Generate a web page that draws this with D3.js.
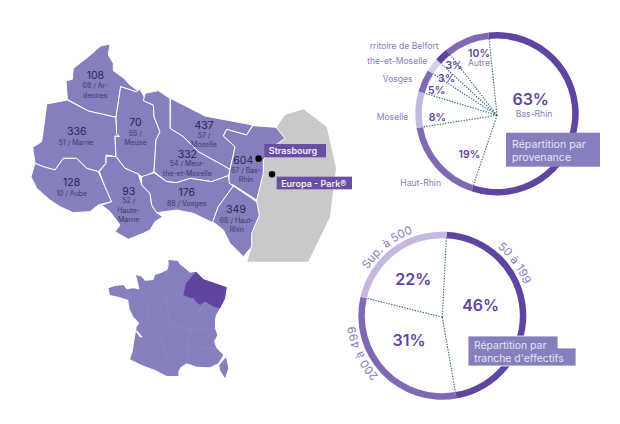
<!DOCTYPE html>
<html><head><meta charset="utf-8">
<style>html,body{margin:0;padding:0;background:#fff}svg{display:block}text{font-family:Inter,sans-serif}</style>
<script src="https://cdn.jsdelivr.net/npm/d3@7"></script></head><body>
<svg id="c" width="620" height="424"></svg>
<script>
// ---- data ----
const deptCounts=[108,336,70,437,332,604,128,93,176,349];
const deptLabels=[["08 / Ar-","dennes"],["51 / Marne"],["55 /","Meuse"],["57 /","Moselle"],["54 / Meur-","the-et-Moselle"],["67 / Bas-","Rhin"],["10 / Aube"],["52 /","Haute-","Marne"],["88 / Vosges"],["68 / Haut-","Rhin"]];
const deptOutlines=[
[[240,42],[212,48],[175,80],[130,115],[127,148],[108,152],[112,208],[175,243],[258,262],[272,170],[318,185],[330,178],[345,190],[340,184],[318,178],[300,165],[282,145],[250,122],[250,100],[235,75]],
[[50,222],[112,210],[175,243],[258,262],[260,310],[268,320],[255,318],[258,380],[228,375],[228,400],[205,425],[170,415],[140,385],[100,385],[75,420],[40,410],[15,400],[8,352],[35,335],[45,262]],
[[272,170],[318,185],[330,178],[345,205],[340,212],[370,225],[372,260],[390,305],[378,330],[372,425],[340,443],[325,432],[285,415],[258,380],[255,318],[268,320],[260,310],[258,262]],
[[422,205],[525,258],[668,285],[650,315],[590,298],[580,318],[615,350],[610,375],[600,418],[505,365],[460,320],[420,295]],
[[345,190],[385,182],[420,205],[420,295],[460,320],[505,365],[600,418],[595,437],[545,455],[480,445],[440,458],[410,455],[372,425],[378,330],[390,305],[372,260],[370,225],[340,212]],
[[668,287],[738,292],[765,325],[730,350],[700,390],[700,430],[680,510],[610,465],[595,460],[600,418],[610,375],[615,350],[580,318],[590,298],[650,315]],
[[15,400],[40,410],[75,420],[100,385],[140,385],[170,415],[205,425],[225,470],[245,515],[205,525],[180,545],[130,548],[90,530],[60,510],[20,475],[3,440]],
[[228,378],[258,380],[285,415],[325,432],[335,465],[360,490],[365,525],[380,548],[398,560],[375,575],[360,600],[340,610],[295,628],[255,605],[270,585],[240,545],[215,525],[245,515],[225,470],[208,425],[228,400]],
[[335,440],[372,428],[410,455],[440,458],[480,445],[545,455],[595,437],[598,460],[610,468],[565,530],[548,578],[490,550],[440,540],[380,548],[365,525],[360,490],[335,465]],
[[610,468],[680,515],[688,555],[665,610],[665,650],[640,680],[600,640],[580,600],[548,575],[565,530]]
];
const germanyOutline=[[740,292],[765,255],[820,238],[890,290],[918,415],[900,560],[835,695],[652,695],[665,650],[665,610],[688,555],[680,510],[700,430],[700,390],[730,350],[765,325]];
const cityNames=["Strasbourg","Europa - Park®"];
const cityPoints=[[686,386],[726,433]];
const franceOutline=[[55,85],[75,78],[100,75],[110,88],[130,85],[148,88],[144,68],[138,45],[155,50],[165,62],[190,60],[195,45],[215,38],[232,30],[236,15],[235,0],[262,2],[272,15],[285,25],[300,38],[318,35],[340,58],[375,70],[410,82],[405,115],[395,135],[390,145],[378,165],[375,180],[375,205],[382,225],[372,245],[380,265],[400,285],[385,310],[360,322],[320,320],[290,310],[272,322],[265,335],[265,348],[230,348],[195,330],[155,315],[120,298],[128,275],[130,260],[136,225],[140,200],[148,190],[130,170],[120,150],[115,120],[90,112],[60,105]];
const franceRegion=[[318,35],[340,58],[375,70],[410,82],[405,115],[395,135],[390,145],[375,142],[345,125],[330,135],[318,125],[310,115],[295,112],[280,105],[288,70],[305,50]];
const franceBorders=[
[[148,88],[175,130],[170,180],[148,190]],[[110,88],[120,150]],[[175,130],[230,120],[280,105]],[[232,30],[225,80],[230,120]],
[[230,120],[240,190],[210,230],[140,200]],[[240,190],[300,210],[345,125]],[[300,210],[290,310]],[[210,230],[230,290],[195,330]],
[[300,210],[375,205]],[[300,260],[380,265]],[[230,290],[300,260]]];
const corsica=[[408,292],[415,325],[405,355],[390,330],[388,315]];
const provenanceNames=["Bas-Rhin","Haut-Rhin","Moselle","Vosges","the-et-Moselle","rritoire de Belfort","Autre"];
const provenanceValues=[63,19,8,5,3,3,10];
const effectifNames=["50 à 199","200 à 499","Sup. à 500"];
const effectifValues=[46,31,22];

// ---- helpers ----
const svg=d3.select("#c");
const purple="#8580bd",dark="#5f45a0",mid="#8069b3",light="#c4b8de",pale="#d8d0e8",lab="#8b7bbd",teal="#2f6a7a";
const mx=d3.scaleLinear([0,960],[30,350]), my=d3.scaleLinear([0,720],[30,270]);
const fx=d3.scaleLinear([0,540],[90,270]), fy=d3.scaleLinear([0,450],[260,410]);
const rx=d3.scaleLinear([0,720],[350,590]), ry=d3.scaleLinear([0,600],[20,220]);
const ex=d3.scaleLinear([0,780],[340,600]), ey=d3.scaleLinear([0,570],[220,410]);
const mapLine=d3.line(d=>mx(d[0]),d=>my(d[1])).curve(d3.curveLinearClosed);
const frLine=d3.line(d=>fx(d[0]),d=>fy(d[1])).curve(d3.curveLinearClosed);
const frOpen=d3.line(d=>fx(d[0]),d=>fy(d[1])).curve(d3.curveLinear);

// ---- main map ----
svg.append("path").attr("d",mapLine(germanyOutline)).attr("fill","#c9c9cb");
svg.append("g").selectAll("path").data(deptOutlines).join("path")
  .attr("d",d=>mapLine(d)).attr("fill",purple).attr("stroke","#fff").attr("stroke-width",1).attr("stroke-linejoin","round");

const countPos=[[196,137],[140,305],[316,278],[522,287],[472,372],[640,390],[125,458],[296,483],[470,488],[618,538]];
const subPos=[[196,167],[138,337],[316,310],[522,315],[472,401],[648,420],[125,490],[296,512],[470,520],[620,570]];
const subStep=28;
const g=svg.append("g").attr("text-anchor","middle");
deptCounts.forEach((v,i)=>{
  g.append("text").attr("x",mx(countPos[i][0])).attr("y",my(countPos[i][1])+3.6).attr("font-size",10.5).attr("fill","#2b2450").text(v);
  deptLabels[i].forEach((t,j)=>g.append("text").attr("x",mx(subPos[i][0])).attr("y",my(subPos[i][1]+j*subStep)+2.8).attr("font-size",7).attr("fill","#3f3a6c").text(t));
});
cityPoints.forEach(p=>svg.append("circle").attr("cx",mx(p[0])).attr("cy",my(p[1])).attr("r",3.3).attr("fill","#000"));
const boxes=[[703,342,888,382],[740,440,966,478]];
cityNames.forEach((n,i)=>{
  const b=boxes[i];
  svg.append("rect").attr("x",mx(b[0])).attr("y",my(b[1])).attr("width",mx(b[2])-mx(b[0])).attr("height",my(b[3])-my(b[1])).attr("fill","#6a4fa3");
  svg.append("text").attr("x",mx(b[0])+4.5).attr("y",my(b[1])+10).attr("font-size",9).attr("font-weight",600).attr("fill","#f1eef8").text(n);
});

// ---- France ----
svg.append("path").attr("d",frLine(franceOutline)).attr("fill",purple);
svg.append("path").attr("d",frLine(corsica)).attr("fill",purple);
svg.append("g").selectAll("path").data(franceBorders).join("path").attr("d",d=>frOpen(d)).attr("fill","none").attr("stroke","#918dc5").attr("stroke-width",.5);
svg.append("path").attr("d",frLine(franceRegion)).attr("fill",dark);
svg.append("path").attr("d",frLine([[140,210],[158,232],[150,232],[138,215]])).attr("fill","#fff");

// ---- donuts ----
function donut(cx,cy,r,values,colors,start){
  const pie=d3.pie().sort(null).startAngle(start).endAngle(start+2*Math.PI)(values);
  const arc=d3.arc().innerRadius(r-6.5).outerRadius(r);
  const gg=svg.append("g").attr("transform",`translate(${cx},${cy})`);
  gg.selectAll("line").data(pie).join("line")
    .attr("x1",0).attr("y1",1.5)
    .attr("x2",d=>Math.sin(d.startAngle)*(r-6)).attr("y2",d=>-Math.cos(d.startAngle)*(r-6))
    .attr("stroke",teal).attr("stroke-width",1.1).attr("stroke-dasharray","1.4 1.3");
  gg.selectAll("path").data(pie).join("path").attr("d",arc).attr("fill",(d,i)=>colors[i]);
}
const deg=Math.PI/180;
donut(497,113.8,81.7,provenanceValues,[dark,mid,light,mid,pale,dark,mid],-6*deg);
donut(442.3,315.7,84,effectifValues,[dark,mid,light],3*deg);

function txt(x,y,t,size,fill,anchor,weight){
  return svg.append("text").attr("x",x).attr("y",y).attr("font-size",size).attr("fill",fill).attr("text-anchor",anchor||"middle").attr("font-weight",weight||400).text(t);
}
// provenance labels
const provNameEnd=[null,[273,490],[175,291],[188,178],[232,124],[266,78]];
provNameEnd.forEach((p,i)=>{if(p)txt(rx(p[0]),ry(p[1])+3,provenanceNames[i],8.6,lab,"end");});
const provPct=[[542,238],[358,403],[262,290],[260,210],[290,174],[312,134],[387,98]];
provenanceValues.forEach((v,i)=>{txt(rx(provPct[i][0]),ry(provPct[i][1])+(i?4:5.8),v+"%",i?10.5:16,dark,"middle",600);});
txt(rx(552),ry(283)+3,provenanceNames[0],8.6,lab);
txt(rx(387),ry(130)+3,provenanceNames[6],8.6,lab);
svg.append("rect").attr("x",506).attr("y",132.7).attr("width",94).attr("height",34).attr("fill",purple);
txt(512,147.5,"Répartition par",10.6,"#e6e3f3","start");
txt(512,161,"provenance",10.6,"#e6e3f3","start");

// effectif labels
const effPct=[[422,255],[207,360],[220,178]];
effectifValues.forEach((v,i)=>txt(ex(effPct[i][0]),ey(effPct[i][1])+5.8,v+"%",16,dark,"middle",600));
svg.append("path").attr("id","ring").attr("fill","none")
  .attr("d",`M442.3,${315.7-87.5}A87.5,87.5 0 1 1 442.29,${315.7-87.5}`);
const effOff=["15%","68%","89.2%"];
effectifNames.forEach((n,i)=>svg.append("text").attr("font-size",11.5).attr("fill",lab).attr("text-anchor","middle")
  .append("textPath").attr("href","#ring").attr("startOffset",effOff[i]).text(n));
svg.append("path").attr("d","M468,336H558V348H576V366H468Z").attr("fill",purple).attr("stroke","#fff").attr("stroke-width",.8);
txt(474,349,"Répartition par",10.4,"#e6e3f3","start");
txt(474,362,"tranche d'effectifs",10.4,"#e6e3f3","start");
</script></body></html>
